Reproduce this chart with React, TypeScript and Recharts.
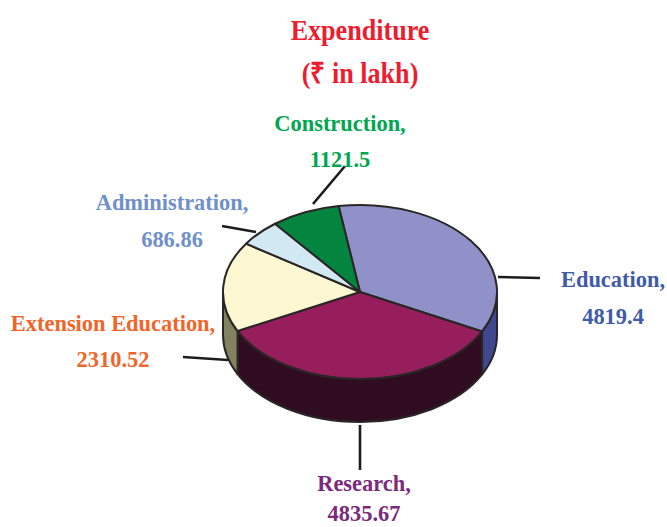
import { Pie, PieChart } from "recharts";

const categories = ["Education", "Research", "Extension Education", "Administration", "Construction"];
const values = [4819.4, 4835.67, 2310.52, 686.86, 1121.5];

const TOP_COLORS = ["#9191c9", "#961e5c", "#fdf8d2", "#d2e9f3", "#03853f"];
const WALL_COLORS = ["#3f478e", "#300c20", "#82825e", "#82a0a8", "#02502a"];
const TEXT_COLORS = ["#3f5ba9", "#7b2a7d", "#f26529", "#6f90c9", "#00a651"];

// label centre, first and second baseline, then the leader line
const LABELS = [
  { x: 613, y1: 287, y2: 324, line: [498, 277, 540, 278] },
  { x: 364, y1: 491, y2: 521, line: [360, 425, 360, 470] },
  { x: 113, y1: 331, y2: 367, line: [183, 357, 228, 360] },
  { x: 172, y1: 210, y2: 247, line: [222, 226, 256, 232] },
  { x: 340, y1: 131, y2: 167, line: [345, 166, 313, 204] },
];

const SQUASH = 87 / 137;
const DEPTH = 43;
const EDGE = "#2b2626";
const FONT = "'Liberation Serif', serif";

const data = categories.map((name, i) => ({ name, value: values[i] }));

function rim(cx: number, cy: number, r: number, deg: number, dy = 0) {
  const t = (deg * Math.PI) / 180;
  return [cx + r * Math.cos(t), cy - r * SQUASH * Math.sin(t) + dy];
}

function TopSlice(props: any) {
  const { cx, cy, outerRadius: r, startAngle: s, endAngle: e, index } = props;
  const [x0, y0] = rim(cx, cy, r, s);
  const [x1, y1] = rim(cx, cy, r, e);
  const large = Math.abs(s - e) > 180 ? 1 : 0;
  const d = `M${cx},${cy}L${x0},${y0}A${r},${r * SQUASH} 0 ${large} 1 ${x1},${y1}Z`;
  return <path d={d} fill={TOP_COLORS[index]} stroke={EDGE} strokeWidth={2} strokeLinejoin="round" />;
}

function WallSlice(props: any) {
  const { cx, cy, outerRadius: r, startAngle: s, endAngle: e, index } = props;
  // only the front half of the rim shows a wall
  const a = Math.min(s, 0);
  const b = Math.max(e, -180);
  if (a <= b) return <g />;
  const [x0, y0] = rim(cx, cy, r, a);
  const [x1, y1] = rim(cx, cy, r, b);
  const rx = r;
  const ry = r * SQUASH;
  const d =
    `M${x0},${y0}A${rx},${ry} 0 0 1 ${x1},${y1}L${x1},${y1 + DEPTH}` +
    `A${rx},${ry} 0 0 0 ${x0},${y0 + DEPTH}Z`;
  return <path d={d} fill={WALL_COLORS[index]} stroke={EDGE} strokeWidth={2} strokeLinejoin="round" />;
}

// the original type is taller and narrower than Liberation Serif
function NarrowText({ x, y, fill, size, squeeze, children }: any) {
  return (
    <text
      transform={`translate(${x},${y}) scale(${squeeze},1)`}
      textAnchor="middle"
      fill={fill}
      fontFamily={FONT}
      fontWeight={700}
      fontSize={size}
    >
      {children}
    </text>
  );
}

function SliceLabel(props: any) {
  const i = props.index;
  const l = LABELS[i];
  return (
    <g>
      <line x1={l.line[0]} y1={l.line[1]} x2={l.line[2]} y2={l.line[3]} stroke="#1c1c1c" strokeWidth={2.6} />
      <NarrowText x={l.x} y={l.y1} fill={TEXT_COLORS[i]} size={24} squeeze={0.935}>{categories[i]},</NarrowText>
      <NarrowText x={l.x} y={l.y2} fill={TEXT_COLORS[i]} size={24} squeeze={0.935}>{String(values[i])}</NarrowText>
    </g>
  );
}

export default function App() {
  return (
    <div style={{ position: "absolute", left: 0, top: 0, width: 667, height: 527, background: "#fff" }}>
      <PieChart width={667} height={527} margin={{ top: 0, right: 0, bottom: 0, left: 0 }}>
        <NarrowText x={360} y={40} fill="#ed1c2e" size={29} squeeze={0.9}>Expenditure</NarrowText>
        <NarrowText x={360} y={83} fill="#ed1c2e" size={29} squeeze={0.9}>(₹ in lakh)</NarrowText>
        <Pie
          data={data}
          dataKey="value"
          nameKey="name"
          cx={360}
          cy={292}
          innerRadius={0}
          outerRadius={137}
          startAngle={99}
          endAngle={-261}
          shape={WallSlice}
          isAnimationActive={false}
        />
        <Pie
          data={data}
          dataKey="value"
          nameKey="name"
          cx={360}
          cy={292}
          innerRadius={0}
          outerRadius={137}
          startAngle={99}
          endAngle={-261}
          shape={TopSlice}
          label={SliceLabel}
          labelLine={false}
          isAnimationActive={false}
        />
      </PieChart>
    </div>
  );
}
